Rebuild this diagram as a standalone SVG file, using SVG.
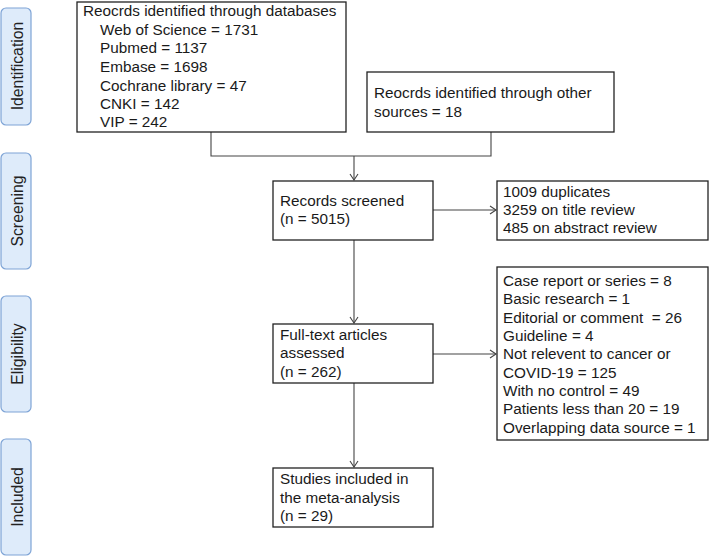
<svg xmlns="http://www.w3.org/2000/svg" width="709" height="557" viewBox="0 0 709 557">
<defs>
<style>
.phase rect{fill:#deebfa;stroke:#7ea4d6;stroke-width:1.2}
.phase text{font-family:"Liberation Sans",Arial,sans-serif;font-size:15.8px;fill:#222;text-anchor:middle}
.box rect{fill:#fff;stroke:#222;stroke-width:1.3}
.box text{font-family:"Liberation Sans",Arial,sans-serif;font-size:15.3px;fill:#1a1a1a}
#connectors path{fill:none;stroke:#444;stroke-width:1.1}
</style>
<marker id="arr" markerWidth="10" markerHeight="10" refX="8" refY="5" orient="auto" markerUnits="userSpaceOnUse">
<path d="M2,1 L8,5 L2,9" fill="none" stroke="#444" stroke-width="1.1"/>
</marker>
</defs>
<rect width="709" height="557" fill="#fff"/>
<g id="phase-identification" class="phase"><rect x="1" y="8" width="30" height="117" rx="5"/><text transform="translate(22.5,66) rotate(-90)">Identification</text></g>
<g id="phase-screening" class="phase"><rect x="1" y="153" width="30" height="116" rx="5"/><text transform="translate(22.5,211) rotate(-90)">Screening</text></g>
<g id="phase-eligibility" class="phase"><rect x="1" y="296" width="30" height="116" rx="5"/><text transform="translate(22.5,354) rotate(-90)">Eligibility</text></g>
<g id="phase-included" class="phase"><rect x="1" y="439" width="30" height="116" rx="5"/><text transform="translate(22.5,497) rotate(-90)">Included</text></g>

<g id="connectors">
<path d="M211,132 V156 H491 V132"/>
<path d="M354,156 V180" marker-end="url(#arr)"/>
<path d="M433,210 H496" marker-end="url(#arr)"/>
<path d="M354,240 V323" marker-end="url(#arr)"/>
<path d="M433,354 H496" marker-end="url(#arr)"/>
<path d="M354,383 V467" marker-end="url(#arr)"/>
</g>

<g id="databases" class="box"><rect x="77" y="2" width="269" height="130"/>
<text x="83" y="16">Reocrds identified through databases</text>
<text x="100" y="35">Web of Science = 1731</text>
<text x="100" y="53">Pubmed = 1137</text>
<text x="100" y="72">Embase = 1698</text>
<text x="100" y="91">Cochrane library = 47</text>
<text x="100" y="109">CNKI = 142</text>
<text x="100" y="127">VIP = 242</text>
</g>
<g id="other-sources" class="box"><rect x="367" y="72" width="247" height="60"/>
<text x="374" y="98">Reocrds identified through other</text>
<text x="374" y="117">sources = 18</text>
</g>
<g id="screened" class="box"><rect x="273" y="181" width="160" height="59"/>
<text x="280" y="206">Records screened</text>
<text x="280" y="224">(n = 5015)</text>
</g>
<g id="excluded-screening" class="box"><rect x="497" y="181" width="211" height="59"/>
<text x="503" y="197">1009 duplicates</text>
<text x="503" y="215">3259 on title review</text>
<text x="503" y="233">485 on abstract review</text>
</g>
<g id="fulltext" class="box"><rect x="273" y="324" width="160" height="59"/>
<text x="280" y="340">Full-text articles</text>
<text x="280" y="358">assessed</text>
<text x="280" y="377">(n = 262)</text>
</g>
<g id="excluded-fulltext" class="box"><rect x="497" y="267" width="211" height="173"/>
<text x="503" y="286">Case report or series = 8</text>
<text x="503" y="304">Basic research = 1</text>
<text x="503" y="323" xml:space="preserve">Editorial or comment  = 26</text>
<text x="503" y="341">Guideline = 4</text>
<text x="503" y="359">Not relevent to cancer or</text>
<text x="503" y="378">COVID-19 = 125</text>
<text x="503" y="396">With no control = 49</text>
<text x="503" y="414">Patients less than 20 = 19</text>
<text x="503" y="433">Overlapping data source = 1</text>
</g>
<g id="included" class="box"><rect x="273" y="468" width="160" height="59"/>
<text x="280" y="484">Studies included in</text>
<text x="280" y="503">the meta-analysis</text>
<text x="280" y="521">(n = 29)</text>
</g>
</svg>
